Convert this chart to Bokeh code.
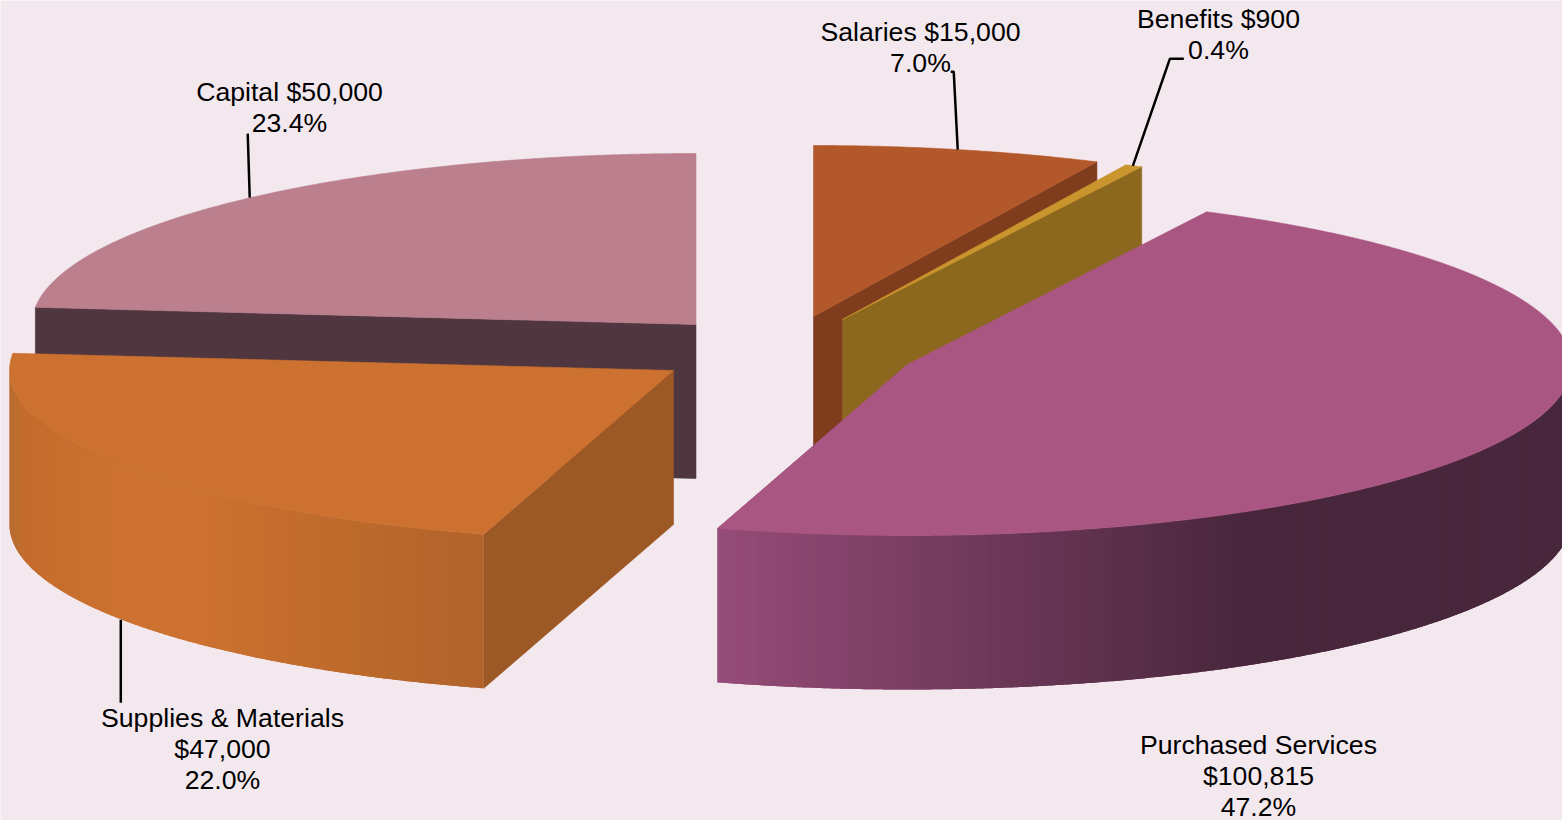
import numpy as np
from bokeh.embed import file_html
from bokeh.models import ColumnDataSource, Range1d
from bokeh.plotting import figure
from bokeh.resources import INLINE
from bokeh.core.properties import value

# Budget categories, clockwise from twelve o'clock
names = ["Salaries", "Benefits", "Purchased Services", "Supplies & Materials", "Capital"]
amounts = [15000, 900, 100815, 47000, 50000]

# Per-slice colours: top face and cut face
top_colors = ["#B3582A", "#C9952D", "#A95682", "#CC7130", "#BB7F8E"]
cut_colors = ["#7F3D1E", "#8C681F", "#954C78", "#9C5825", "#50373F"]

# Exploded slice centres in page pixels
centres = [(813, 316), (842, 319), (907, 364), (673, 370), (695.5, 324)]

# Pie projection
RX, RY, DEPTH = 664, 171, 154
W, H = 1562, 820
BG = "#F4E8EF"
FONT = value("Liberation Sans")

# Rim shading across the page, (x, rgb) stops
rim_purchased = [(718, (149, 76, 120)), (1250, (72, 38, 59)), (1562, (72, 38, 59))]
rim_supplies = [(10, (184, 108, 48)), (26, (196, 108, 45)), (110, (204, 113, 48)),
                (200, (204, 113, 48)), (300, (194, 108, 45)), (484, (176, 99, 42))]

total = sum(amounts)
sweeps = [a / total * 360 for a in amounts]
ends = 90 - np.cumsum(sweeps)
starts = ends + np.array(sweeps)


def pt(c, deg, drop=0.0):
    t = np.radians(deg)
    return c[0] + RX * np.cos(t), c[1] - RY * np.sin(t) + drop


def shade(stops, x):
    xs = [s[0] for s in stops]
    rgb = [int(round(np.interp(x, xs, [s[1][k] for s in stops]))) for k in range(3)]
    return "#%02X%02X%02X" % tuple(rgb)


p = figure(width=W, height=H, x_range=Range1d(0, W), y_range=Range1d(H, 0),
           output_backend="svg", toolbar_location=None, min_border=0,
           background_fill_color=BG, border_fill_color=BG, outline_line_color=None)
p.axis.visible = False
p.grid.visible = False


def draw_patch(xs, ys, color):
    p.patch(list(xs), list(ys), fill_color=color, line_color=color, line_width=0.6)


def draw_rim(c, a0, a1, stops):
    """Outer wall from a0 down to a1, as bands that each run under the next one."""
    grid = np.append(np.arange(a0, a1, -1.0), a1)
    px, py, col = [], [], []
    for k in range(len(grid) - 1):
        arc = np.linspace(grid[k], grid[min(k + 2, len(grid) - 1)], 9)
        ax, ay = pt(c, arc)
        px.append(np.r_[ax, ax[::-1]].tolist())
        py.append(np.r_[ay, ay[::-1] + DEPTH].tolist())
        col.append(shade(stops, pt(c, (grid[k] + grid[k + 1]) / 2)[0]))
    src = ColumnDataSource(dict(x=px, y=py, c=col))
    p.patches("x", "y", source=src, fill_color="c", line_color=None)


def draw_slice(i, cut_angle, rim=None):
    c = centres[i]
    # Radial cut face
    ex, ey = pt(c, cut_angle)
    draw_patch([c[0], ex, ex, c[0]], [c[1], ey, ey + DEPTH, c[1] + DEPTH], cut_colors[i])
    if rim:
        draw_rim(c, *rim)
    # Top face
    th = np.append(np.arange(starts[i], ends[i], -0.25), ends[i])
    ax, ay = pt(c, th)
    draw_patch(np.r_[c[0], ax], np.r_[c[1], ay], top_colors[i])


# Painted back to front
draw_slice(4, ends[3])
draw_slice(0, ends[0])
draw_slice(1, ends[1])
draw_slice(2, ends[2], rim=(0.0, ends[2], rim_purchased))
draw_slice(3, ends[2], rim=(ends[2], -180.0, rim_supplies))

# Leader lines leave each slice at the middle of its arc
mids = (starts + ends) / 2
elbows = {0: [(-4, -78), (-7, -78)],
          1: [(37, -107), (51, -107)],
          3: [(0, 83)],
          4: [(-2, -64)]}
for i, offs in elbows.items():
    drop = DEPTH if i == 3 else 0
    sx, sy = pt(centres[i], mids[i], drop)
    sx -= 1
    p.line([sx] + [sx + o[0] for o in offs], [sy] + [sy + o[1] for o in offs],
           line_color="black", line_width=2.5)

# Labels: centre x and first-line y
label_pos = [(920, 31), (1218, 18), (1258, 744), (222, 717), (289, 91)]
LEAD = 31
tx, ty, tt = [], [], []
for i, (name, amt) in enumerate(zip(names, amounts)):
    money = f"${amt:,}"
    pct = f"{amt / total * 100:.1f}%"
    lines = [f"{name} {money}", pct] if i in (0, 1, 4) else [name, money, pct]
    for k, line in enumerate(lines):
        tx.append(label_pos[i][0])
        ty.append(label_pos[i][1] + k * LEAD)
        tt.append(line)
p.text(tx, ty, text=tt, text_font=FONT, text_font_size="26.67px", text_color="black",
       text_align="center", text_baseline="middle")

open("out.html", "w").write(file_html(p, INLINE))
